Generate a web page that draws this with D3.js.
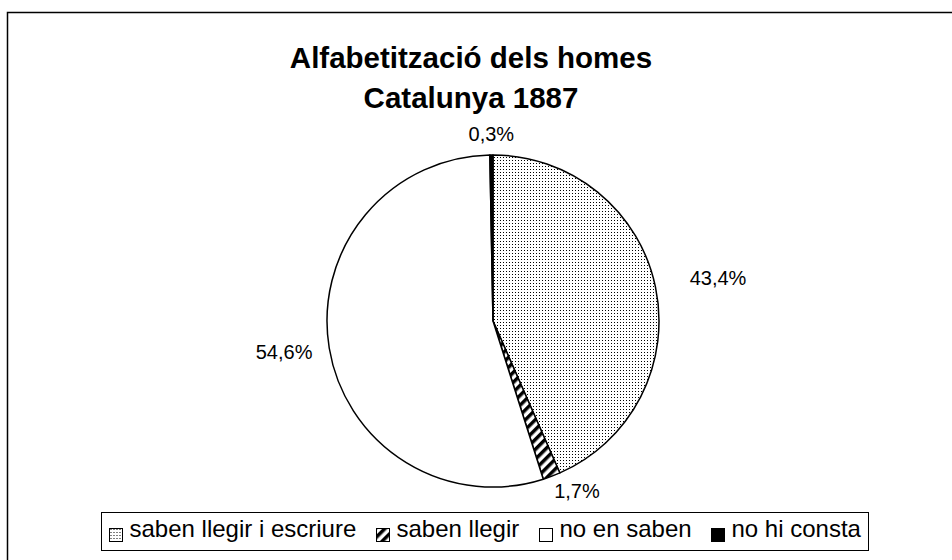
<!DOCTYPE html>
<html>
<head>
<meta charset="utf-8">
<script src="https://cdn.jsdelivr.net/npm/d3@7"></script>
<style>
  body { margin: 0; background: #fff; }
  text { font-family: Arial, "Liberation Sans", sans-serif; fill: #000; }
</style>
</head>
<body>
<div class="chart"></div>
<script>
const titleLines = ["Alfabetització dels homes", "Catalunya 1887"];
const categories = ["saben llegir i escriure", "saben llegir", "no en saben", "no hi consta"];
const values = [43.4, 1.7, 54.6, 0.3];
const fills = ["url(#dots)", "url(#hatch)", "#fff", "#000"];

let dims = { height: 560, width: 952 };
const center = { x: 493, y: 321 };
const radius = 166;
// extra distance of each label from the pie edge
const labelGap = [35, 7, 17, 13];

let svg = d3
  .select(".chart")
  .append("svg")
  .attr("height", dims.height)
  .attr("width", dims.width);

let defs = svg.append("defs");

let dots = defs.append("pattern")
  .attr("id", "dots")
  .attr("width", 3)
  .attr("height", 3)
  .attr("patternUnits", "userSpaceOnUse");
dots.append("rect").attr("width", 3).attr("height", 3).attr("fill", "#fff");
dots.append("rect").attr("x", 1).attr("y", 1).attr("width", 1).attr("height", 1).attr("fill", "#000");

let hatch = defs.append("pattern")
  .attr("id", "hatch")
  .attr("width", 7)
  .attr("height", 7)
  .attr("patternUnits", "userSpaceOnUse")
  .attr("patternTransform", "rotate(45)");
hatch.append("rect").attr("width", 7).attr("height", 7).attr("fill", "#fff");
hatch.append("rect").attr("width", 3.5).attr("height", 7).attr("fill", "#000");

// outer frame (runs off the right and bottom edges)
svg.append("rect")
  .attr("x", 7.5)
  .attr("y", 12.5)
  .attr("width", dims.width)
  .attr("height", dims.height)
  .attr("fill", "none")
  .attr("stroke", "#000")
  .attr("stroke-width", 1.5);

// title
svg.append("g")
  .selectAll("text")
  .data(titleLines)
  .join("text")
  .attr("x", 471)
  .attr("y", (d, i) => 68 + i * 40)
  .attr("text-anchor", "middle")
  .style("font-size", "29.5px")
  .style("font-weight", 700)
  .text(d => d);

// pie
let pie = d3.pie().sort(null).value(d => d)(values);
let arc = d3.arc().innerRadius(0).outerRadius(radius);

let g = svg.append("g").attr("transform", `translate(${center.x}, ${center.y})`);

g.selectAll("path")
  .data(pie)
  .join("path")
  .attr("d", arc)
  .attr("fill", (d, i) => fills[i])
  .attr("stroke", "#000")
  .attr("stroke-width", 1.5)
  .attr("stroke-linejoin", "round");

const fmt = v => d3.format(".1f")(v).replace(".", ",") + "%";

g.selectAll(".lbl")
  .data(pie)
  .join("text")
  .attr("class", "lbl")
  .style("font-size", "20px")
  .text(d => fmt(d.data))
  .each(function (d, i) {
    const a = (d.startAngle + d.endAngle) / 2;
    const dx = Math.sin(a), dy = -Math.cos(a);
    const R = radius + labelGap[i];
    const anchor = dx > 0.1 ? "start" : dx < -0.1 ? "end" : "middle";
    d3.select(this)
      .attr("text-anchor", anchor)
      .attr("x", dx * R)
      .attr("y", dy * R + dy * 8.5 + 7);
  });

// legend
const legend = { cx: 485, top: 512, height: 38, pad: 8, icon: 14, gap: 6, itemGap: 20 };
let lg = svg.append("g").attr("class", "legend");
let box = lg.append("rect")
  .attr("y", legend.top + 0.5)
  .attr("height", legend.height)
  .attr("fill", "#fff")
  .attr("stroke", "#000")
  .attr("stroke-width", 1);

let items = lg.selectAll(".item")
  .data(categories)
  .join("g")
  .attr("class", "item");

items.append("rect")
  .attr("y", legend.top + 16.5)
  .attr("width", legend.icon - 1)
  .attr("height", legend.icon - 1)
  .attr("fill", (d, i) => fills[i])
  .attr("stroke", "#000")
  .attr("stroke-width", 1);

items.append("text")
  .attr("x", legend.icon + legend.gap)
  .attr("y", legend.top + 25)
  .style("font-size", "24px")
  .text(d => d);

let widths = [];
items.select("text").each(function () { widths.push(this.getComputedTextLength()); });
let total = legend.pad * 2 + d3.sum(widths, w => w + legend.icon + legend.gap) + legend.itemGap * (categories.length - 1);
let x0 = legend.cx - total / 2;
box.attr("x", Math.round(x0) + 0.5).attr("width", Math.round(total));

let cursor = x0 + legend.pad;
items.each(function (d, i) {
  d3.select(this).attr("transform", `translate(${Math.round(cursor) + 0.5}, 0)`);
  cursor += legend.icon + legend.gap + widths[i] + legend.itemGap;
});
</script>
</body>
</html>
